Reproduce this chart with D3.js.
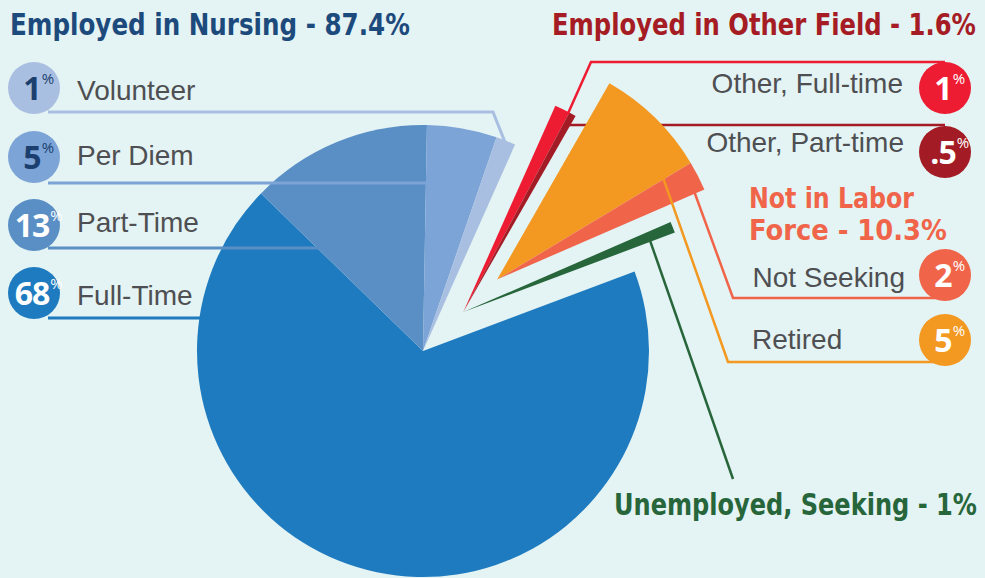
<!DOCTYPE html>
<html>
<head>
<meta charset="utf-8">
<script src="https://cdn.jsdelivr.net/npm/d3@7"></script>
<style>
  body { margin: 0; background: #e4f3f3; }
  svg { display: block; }
</style>
</head>
<body>
<div id="chart"></div>
<script>
// slices, clockwise from the Full-Time edge
var categories = ['Full-Time', 'Part-Time', 'Per Diem', 'Volunteer',
                  'Other, Full-time', 'Other, Part-time',
                  'Retired', 'Not Seeking', 'Unemployed, Seeking'];
var shares = [68, 13, 5, 1.4, 1.1, 0.5, 8.1, 2.1, 0.8];
var groupOf = [0, 0, 0, 0, 1, 1, 2, 2, 3];
var pctLabels = ['68', '13', '5', '1', '1', '.5', '5', '2', '1'];

var groupNames = ['Employed in Nursing', 'Employed in Other Field', 'Not in Labor Force', 'Unemployed, Seeking'];
var groupTotals = ['87.4%', '1.6%', '10.3%', '1%'];

var colors = ['#1f7bbf', '#5a8fc6', '#7da4d6', '#a9bfe1',
              '#ed1c33', '#a31b24', '#f39820', '#f0654a', '#27663b'];
var groupColors = ['#1d4a7c', '#a51c24', '#f0654a', '#27663b'];
var grey = '#4e4f52';

var fullWidth = 985;
var fullHeight = 578;
var cx = 423, cy = 351, R = 226;
var explodeAngle = 46 * Math.PI / 180;
var explodeDist = [0, 56, 103, 56];

var svg = d3.select('#chart').append('svg')
  .attr('width', fullWidth)
  .attr('height', fullHeight);

svg.append('rect')
  .attr('width', fullWidth)
  .attr('height', fullHeight)
  .style('fill', '#e4f3f3');

function origin(g) {
  return [cx + explodeDist[g] * Math.sin(explodeAngle),
          cy - explodeDist[g] * Math.cos(explodeAngle)];
}

var start = 69.4 * Math.PI / 180;
var pie = d3.pie().sort(null).value(function(d) { return d; })
  .startAngle(start).endAngle(start + 2 * Math.PI);
var arcs = pie(shares);
var arc = d3.arc().innerRadius(0).outerRadius(R);

// point on slice i: t = fraction across the slice angle, r = radius
function anchor(i, t, r) {
  var o = origin(groupOf[i]);
  var a = arcs[i].startAngle + t * (arcs[i].endAngle - arcs[i].startAngle);
  return [o[0] + r * Math.sin(a), o[1] - r * Math.cos(a)];
}

// leader lines (layout)
var leaders = [
  {i: 0, pts: [[240, 318], [48, 318]], w: 3},
  {i: 1, pts: [[360, 248], [48, 248]], w: 3},
  {i: 2, pts: [[445, 183], [48, 183]], w: 3},
  {i: 3, pts: [anchor(3, 0.5, R - 2), [493, 112], [48, 112]], w: 3},
  {i: 4, pts: [anchor(4, 0.95, R - 2), [591, 62], [945, 62]], w: 2.5},
  {i: 5, pts: [[anchor(5, 0.5, 212)[0], 125], [945, 125]], w: 2.5},
  {i: 6, pts: [anchor(6, 0.97, 195), [728, 362], [945, 362]], w: 2.5},
  {i: 7, pts: [anchor(7, 0.85, 216), [733, 298], [945, 298]], w: 2.5},
  {i: 8, pts: [anchor(8, 0.9, 200), [733, 479]], w: 2.5}
];

var line = d3.line();

for (var g = 0; g < 4; g++) {
  var layer = svg.append('g').classed('group-' + g, true);
  var o = origin(g);
  layer.selectAll('path.slice')
    .data(arcs.filter(function(d, i) { return groupOf[i] === g; }))
    .enter().append('path')
      .classed('slice', true)
      .attr('transform', 'translate(' + o[0] + ',' + o[1] + ')')
      .attr('d', arc)
      .style('fill', function(d) { return colors[d.index]; });
  leaders.filter(function(l) { return groupOf[l.i] === g; }).forEach(function(l) {
    layer.append('path')
      .attr('d', line(l.pts))
      .style('fill', 'none')
      .style('stroke', colors[l.i])
      .style('stroke-width', l.w);
  });
}

// percentage badges
var badges = [
  {i: 3, x: 34, y: 88, num: '#1b3f6e'},
  {i: 2, x: 34, y: 157, num: '#1b3f6e'},
  {i: 1, x: 34, y: 225, num: '#fff'},
  {i: 0, x: 34, y: 293, num: '#fff'},
  {i: 4, x: 945, y: 88, num: '#fff'},
  {i: 5, x: 945, y: 152, num: '#fff'},
  {i: 7, x: 945, y: 275, num: '#fff'},
  {i: 6, x: 945, y: 340, num: '#fff'}
];

badges.forEach(function(b) {
  svg.append('circle')
    .attr('cx', b.x)
    .attr('cy', b.y)
    .attr('r', 26)
    .style('fill', colors[b.i]);
  var t = svg.append('text')
    .attr('x', b.x - 2)
    .attr('y', b.y + 12)
    .style('text-anchor', 'middle')
    .style('font-family', "'Open Sans', 'Noto Sans', sans-serif")
    .style('font-weight', 'bold')
    .style('font-size', '32px')
    .style('letter-spacing', '-1px')
    .style('fill', b.num)
    .text(pctLabels[b.i]);
  var w = t.node().getComputedTextLength();
  svg.append('text')
    .attr('x', b.x - 2 + w / 2 + 1)
    .attr('y', b.y - 4)
    .style('font-family', "'Open Sans', 'Noto Sans', sans-serif")
    .style('font-size', '15px')
    .style('fill', b.num)
    .text('%');
});

// category labels
var labels = [
  {i: 3, x: 77, y: 100, anchor: 'start'},
  {i: 2, x: 77, y: 165, anchor: 'start'},
  {i: 1, x: 77, y: 232, anchor: 'start'},
  {i: 0, x: 77, y: 305, anchor: 'start'},
  {i: 4, x: 903, y: 93, anchor: 'end'},
  {i: 5, x: 904, y: 152, anchor: 'end'},
  {i: 7, x: 905, y: 287, anchor: 'end'},
  {i: 6, x: 752, y: 349, anchor: 'start'}
];

svg.selectAll('text.label').data(labels).enter().append('text')
  .classed('label', true)
  .attr('x', function(d) { return d.x; })
  .attr('y', function(d) { return d.y; })
  .style('text-anchor', function(d) { return d.anchor; })
  .style('font-family', "'Liberation Sans', Arial, sans-serif")
  .style('font-size', '28px')
  .style('fill', grey)
  .text(function(d) { return categories[d.i]; });

// group headings, squeezed horizontally to the reference widths
var nil = groupNames[2].split(' ');
var headings = [
  {g: 0, text: groupNames[0] + ' - ' + groupTotals[0], x: 10, y: 35, len: 400, size: 31},
  {g: 1, text: groupNames[1] + ' - ' + groupTotals[1], x: 552, y: 35, len: 424, size: 31},
  {g: 2, text: nil.slice(0, 3).join(' '), x: 749, y: 208, len: 165, size: 29},
  {g: 2, text: nil[3] + ' - ' + groupTotals[2], x: 749, y: 240, len: 198, size: 29},
  {g: 3, text: groupNames[3] + ' - ' + groupTotals[3], x: 614, y: 515, len: 363, size: 31}
];

headings.forEach(function(d) {
  var t = svg.append('text')
    .classed('heading', true)
    .style('font-family', "'Liberation Sans Narrow', 'DejaVu Sans Condensed', sans-serif")
    .style('font-weight', 'bold')
    .style('font-size', d.size + 'px')
    .style('fill', groupColors[d.g])
    .text(d.text);
  var w = t.node().getComputedTextLength();
  t.attr('transform', 'translate(' + d.x + ',' + d.y + ') scale(' + (d.len / w) + ',1)');
});
</script>
</body>
</html>
